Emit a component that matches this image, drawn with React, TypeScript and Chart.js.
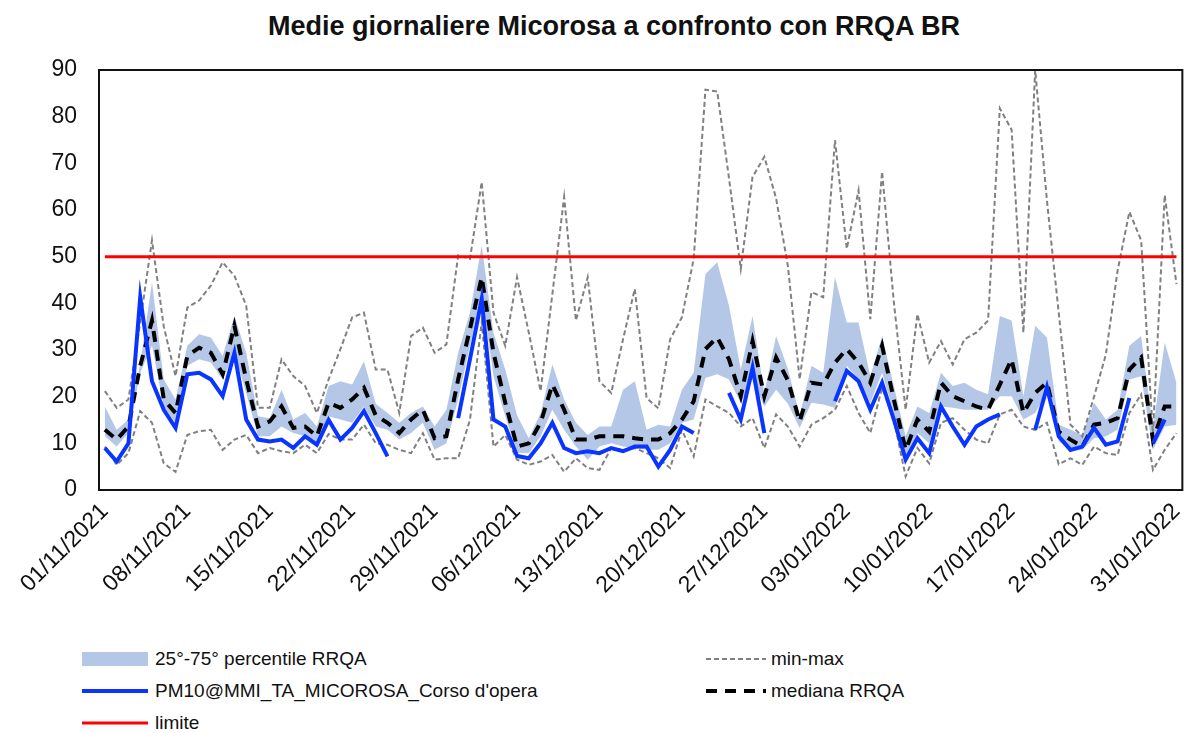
import React, { useEffect, useRef } from "react";
import { Chart, registerables } from "chart.js";

Chart.register(...registerables);

// ---- categories (daily dates 01/11/2021 .. 31/01/2022) ----
const MONTHS = [
  { m: "11", y: "2021", days: 30 },
  { m: "12", y: "2021", days: 31 },
  { m: "01", y: "2022", days: 31 },
];
const DATES: string[] = [];
MONTHS.forEach(({ m, y, days }) => {
  for (let d = 1; d <= days; d++) DATES.push(`${String(d).padStart(2, "0")}/${m}/${y}`);
});

const TICK_LABELS = [
  "01/11/2021", "08/11/2021", "15/11/2021", "22/11/2021", "29/11/2021",
  "06/12/2021", "13/12/2021", "20/12/2021", "27/12/2021", "03/01/2022",
  "10/01/2022", "17/01/2022", "24/01/2022", "31/01/2022",
];

const Y_TICKS = [0, 10, 20, 30, 40, 50, 60, 70, 80, 90];

// ---- series ----
const MAX_RRQA = [
  21.2, 17.6, 19.4, 36, 53.5, 35, 24.4, 39.1, 40.6, 43.8, 48.8, 45.9, 39.5, 17.6, 17.6, 28.0,
  24.4, 22.3, 16.5, 23.7, 30.2, 37.0, 38.0, 25.8, 25.8, 16.5, 33.0, 34.8, 29.4, 31.2, 50.3,
  49.5, 66.0, 38.0, 30.9, 45.6, 33.7, 21.2, 42, 62.8, 36.3, 45.6, 23.3, 20.8, 32.3, 43.1,
  19.7, 17.5, 32.3, 37.0, 49.5, 85.8, 85.4, 66.8, 47.4, 67.1, 71.4, 62.5, 48, 23.7, 42.4,
  41.3, 75.0, 51.7, 64.2, 36.6, 68.2, 40.2, 17.2, 37.7, 27.3, 31.9, 26.9, 32.3, 33.7, 36.3,
  81.8, 77.2, 33.7, 90, 62, 38, 14, 11.5, 20, 29, 47, 59.6, 53.5, 12, 63.2, 44.1,
];

const MIN_RRQA = [
  9.3, 5.4, 7.9, 16.9, 14.4, 5.7, 3.9, 11.8, 12.6, 12.9, 8.6, 10.8, 11.8, 7.9, 9.0, 8.3,
  7.9, 9.7, 7.9, 12, 10.8, 10.8, 14, 10, 9.7, 8.6, 7.9, 12.2, 6.5, 6.8, 6.8,
  15, 36, 9.3, 11.8, 6.5, 5.4, 6.1, 7.5, 3.9, 6.8, 4.7, 4.3, 9.0, 8.6, 9.0,
  7.9, 6.8, 4.7, 12.9, 7.2, 19.4, 17.9, 16.5, 13.6, 15.4, 9.0, 16.2, 13.6, 9.3, 14.0,
  15.4, 17.2, 22.3, 16.5, 12.2, 21.9, 15.1, 2.9, 9.0, 5.7, 14.4, 15.4, 12.9, 10.8, 10.0,
  16.2, 17.2, 13.6, 12.9, 14.4, 5.5, 6.8, 5.4, 9.3, 7.9, 7.5, 16.5, 20.5, 4.3, 8.6, 12.2,
];

const MEDIAN_RRQA = [
  12.9, 10.8, 13.6, 26.6, 36.3, 19.4, 16.5, 28.7, 30.5, 29.4, 24.8, 35.2, 23.7, 13.6, 14.7, 17.9,
  13.3, 13.6, 11.5, 18.7, 17.6, 19.4, 21.9, 16, 14.4, 12.2, 15.1, 17.2, 11.1, 11.5, 23.7,
  34.5, 45.6, 29.4, 18.7, 9.3, 10.0, 14.4, 22.6, 17.2, 10.8, 10.8, 11.5, 11.5, 11.5, 11.1,
  10.8, 10.8, 12.2, 15.1, 19.0, 30.2, 32.7, 28.0, 20.1, 31.9, 20.1, 28.4, 23.5, 14.7, 23.0,
  22.6, 27.3, 30.2, 27.3, 23.0, 30.9, 19.4, 8.6, 15.1, 12.5, 23.0, 20.1, 19.0, 17.9, 17.2,
  22.6, 28.0, 16.5, 20.8, 23.0, 12.5, 10.8, 9.3, 14.0, 14.4, 15.4, 25.8, 28.4, 10.8, 17.9, 17.9,
];

const P75_RRQA = [
  17.9, 12.9, 15.1, 27, 44.5, 23.7, 19.4, 30.9, 33.4, 32.7, 28.7, 37.3, 29.4, 15.8, 15.4, 21.5,
  15.1, 16.5, 13.6, 22.3, 23.3, 22.6, 27.6, 18.5, 16.5, 14.4, 16.5, 17.9, 13.6, 17.2, 29.4,
  38.0, 52.4, 33.7, 25.8, 16, 11.1, 16.5, 26.9, 19.4, 14.4, 11.8, 13.6, 13.6, 21.5, 23.3,
  12.9, 14.0, 13.6, 21.5, 25.1, 46.3, 48.8, 39.5, 25.8, 37.3, 20.8, 33.0, 26, 16, 26.6,
  25.1, 45.6, 35.9, 35.9, 24.4, 33.0, 22.3, 11.5, 17.9, 16.5, 25.1, 22.3, 23.0, 21.5, 20.5,
  37.3, 36.3, 20.1, 35.2, 32.7, 14.0, 12.9, 11.8, 18.7, 15.1, 17.2, 30.9, 33.0, 12.9, 31.6, 23.0,
];

const P25_RRQA = [
  11.5, 9.3, 12.2, 25.1, 30.9, 17.9, 14.4, 26.6, 28, 27.3, 23.7, 29.4, 20.8, 11.5, 11.5, 13.6,
  12.2, 11.5, 10.0, 15.8, 15.1, 14.4, 17.9, 13.6, 12.9, 10.8, 12.2, 14.4, 8.6, 10.0, 19.4,
  30.9, 42.4, 24.4, 15.8, 8.0, 7.9, 11.5, 17.2, 12.9, 9.3, 6.5, 9.3, 10.0, 9.3, 9.0,
  8.6, 8.6, 10.0, 14.4, 15.1, 24.0, 24.8, 23.7, 18.7, 23.7, 17.9, 21.5, 18.5, 13.3, 18.7,
  18.3, 17.6, 26.6, 23.7, 18.7, 25.1, 16.5, 6.5, 12.2, 10, 17.9, 17.6, 17.2, 17.2, 17.2,
  20.1, 20.1, 15.1, 16.5, 20.8, 10.5, 8.3, 8.6, 11.1, 11.5, 12.9, 23.7, 24.4, 8.6, 13.6, 14.0,
];

const PM10_MICOROSA: (number | null)[] = [
  9, 6.1, 10.0, 41.3, 23.3, 17.2, 13.3, 24.8, 25.1, 23.7, 20.1, 29.4, 15.1, 10.8, 10.4, 10.8,
  9.0, 11.5, 9.7, 15.0, 10.8, 13.3, 16.9, 12.2, 7.2, null, null, null, null, null, 15.4,
  28.0, 40.9, 15.1, 13.6, 7.3, 6.8, 10.0, 14.4, 9.0, 7.9, 8.3, 7.9, 9.0, 8.3, 9.3,
  9.3, 5.0, 8.6, 13.6, 12.2, null, null, 20.8, 15.1, 26.2, 12.2, null, null, null, null,
  null, 19.0, 25.5, 23.3, 17.2, 23.0, 15.1, 6.5, 11.1, 7.9, 17.9, 13.6, 9.7, 13.6, 15.1,
  16.2, null, null, 12.9, 22.0, 11.5, 8.6, 9.3, 13.3, 9.7, 10.4, 19.7, null, 10.0, 15.1, null,
];

const LIMIT = 50;

const FONT = "'Liberation Sans', Arial, sans-serif";
const BAND_COLOR = "#b4c7e7";
const BLUE = "#0a35ff";
const RED = "#ff0000";
const GRAY = "#808080";

const framePlugin = {
  id: "frame",
  afterDatasetsDraw(chart: any) {
    const { ctx, chartArea } = chart;
    const { left, top, right, bottom } = chartArea;
    ctx.save();
    ctx.strokeStyle = "#111";
    ctx.lineWidth = 2;
    ctx.strokeRect(left, top, right - left, bottom - top);
    ctx.restore();
  },
};

function LegendLine({ color, width, dash, len }: { color: string; width: number; dash?: string; len: number }) {
  return (
    <svg width={len} height={14} style={{ display: "block" }}>
      <line x1={0} y1={7} x2={len} y2={7} stroke={color} strokeWidth={width} strokeDasharray={dash} />
    </svg>
  );
}

const legendText: React.CSSProperties = {
  position: "absolute",
  fontFamily: FONT,
  fontSize: 19,
  color: "#111",
  lineHeight: "20px",
  whiteSpace: "nowrap",
};

export default function App() {
  const canvasRef = useRef<HTMLCanvasElement | null>(null);

  useEffect(() => {
    if (!canvasRef.current) return;
    const chart = new Chart(canvasRef.current, {
      type: "line",
      data: {
        labels: DATES,
        datasets: [
          {
            label: "PM10@MMI_TA_MICOROSA_Corso d'opera",
            data: PM10_MICOROSA,
            borderColor: BLUE,
            borderWidth: 4,
            pointRadius: 0,
            spanGaps: false,
            fill: false,
          },
          {
            label: "limite",
            data: DATES.map(() => LIMIT),
            borderColor: RED,
            borderWidth: 3,
            pointRadius: 0,
            fill: false,
          },
          {
            label: "mediana RRQA",
            data: MEDIAN_RRQA,
            borderColor: "#000",
            borderWidth: 4,
            borderDash: [11, 8],
            pointRadius: 0,
            fill: false,
          },
          {
            label: "max",
            data: MAX_RRQA,
            borderColor: GRAY,
            borderWidth: 2,
            borderDash: [5, 3],
            pointRadius: 0,
            fill: false,
          },
          {
            label: "min",
            data: MIN_RRQA,
            borderColor: GRAY,
            borderWidth: 2,
            borderDash: [5, 3],
            pointRadius: 0,
            fill: false,
          },
          {
            label: "p25",
            data: P25_RRQA,
            borderWidth: 0,
            borderColor: "rgba(0,0,0,0)",
            pointRadius: 0,
            fill: false,
          },
          {
            label: "25°-75° percentile RRQA",
            data: P75_RRQA,
            borderWidth: 0,
            borderColor: "rgba(0,0,0,0)",
            backgroundColor: BAND_COLOR,
            pointRadius: 0,
            fill: "-1",
          },
        ],
      },
      options: {
        responsive: false,
        animation: false,
        devicePixelRatio: 1,
        layout: { padding: { top: 70, right: 1, left: 0, bottom: 0 } },
        plugins: {
          legend: { display: false },
          tooltip: { enabled: false },
          title: { display: false },
        },
        elements: { line: { tension: 0 } },
        scales: {
          x: {
            type: "category",
            offset: true,
            grid: { display: false, drawTicks: false },
            border: { display: false },
            afterFit: (s: any) => {
              s.height = 150;
            },
            ticks: {
              autoSkip: false,
              minRotation: 45,
              maxRotation: 45,
              padding: 8,
              color: "#111",
              font: { family: FONT, size: 23 },
              callback: function (this: any, _v: any, idx: number) {
                const lab = DATES[idx];
                return TICK_LABELS.includes(lab) ? lab : "";
              },
            },
          },
          y: {
            min: Y_TICKS[0],
            max: Y_TICKS[Y_TICKS.length - 1],
            grid: { display: false, drawTicks: false },
            border: { display: false },
            afterFit: (s: any) => {
              s.width = 99;
            },
            afterBuildTicks: (s: any) => {
              s.ticks = Y_TICKS.map((v) => ({ value: v }));
            },
            ticks: {
              padding: 22,
              color: "#111",
              font: { family: FONT, size: 23 },
            },
          },
        },
      },
      plugins: [framePlugin],
    });
    return () => chart.destroy();
  }, []);

  return (
    <div
      style={{
        position: "fixed",
        left: 0,
        top: 0,
        width: 1204,
        height: 733,
        background: "#fff",
        overflow: "hidden",
      }}
    >
      <div
        style={{
          position: "absolute",
          left: 0,
          top: 13,
          width: 1228,
          textAlign: "center",
          fontFamily: FONT,
          fontWeight: 700,
          fontSize: 27,
          lineHeight: "27px",
          color: "#111",
        }}
      >
        Medie giornaliere Micorosa a confronto con RRQA BR
      </div>
      <canvas
        ref={canvasRef}
        width={1204}
        height={640}
        style={{ position: "absolute", left: 0, top: 0, width: 1204, height: 640 }}
      />
      {/* legend */}
      <div style={{ position: "absolute", left: 82, top: 652, width: 66, height: 14, background: BAND_COLOR }} />
      <div style={{ ...legendText, left: 155, top: 649 }}>25°-75° percentile RRQA</div>
      <div style={{ position: "absolute", left: 706, top: 652 }}>
        <LegendLine color={GRAY} width={2} dash="5 3" len={60} />
      </div>
      <div style={{ ...legendText, left: 771, top: 649 }}>min-max</div>

      <div style={{ position: "absolute", left: 82, top: 684 }}>
        <LegendLine color={BLUE} width={4} len={66} />
      </div>
      <div style={{ ...legendText, left: 155, top: 681 }}>PM10@MMI_TA_MICOROSA_Corso d'opera</div>
      <div style={{ position: "absolute", left: 706, top: 684 }}>
        <LegendLine color="#000" width={4} dash="11 8" len={60} />
      </div>
      <div style={{ ...legendText, left: 771, top: 681 }}>mediana RRQA</div>

      <div style={{ position: "absolute", left: 82, top: 716 }}>
        <LegendLine color={RED} width={3} len={66} />
      </div>
      <div style={{ ...legendText, left: 155, top: 713 }}>limite</div>
    </div>
  );
}
